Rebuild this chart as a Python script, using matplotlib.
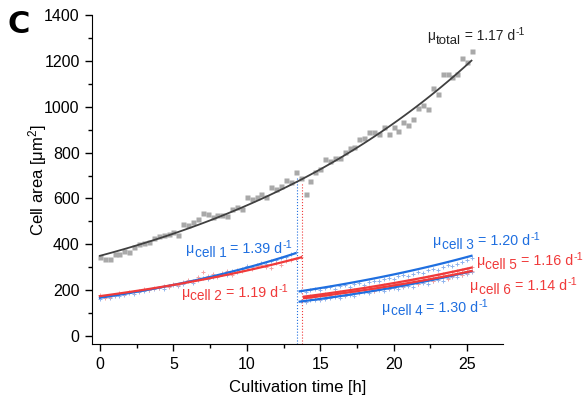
import numpy as np
import matplotlib
matplotlib.use("Agg")
import matplotlib.pyplot as plt
from matplotlib.ticker import MultipleLocator

plt.rcParams['font.family'] = ['Liberation Sans', 'DejaVu Sans']
plt.rcParams['mathtext.fontset'] = 'custom'
plt.rcParams['mathtext.rm'] = 'Liberation Sans'
plt.rcParams['mathtext.it'] = 'Liberation Sans:italic'

# sampling times [h]
time_h = [0.00, 0.33, 0.67, 1.00, 1.33, 1.67, 2.00, 2.33, 2.67, 3.00,
          3.33, 3.67, 4.00, 4.33, 4.67, 5.00, 5.33, 5.67, 6.00, 6.33,
          6.67, 7.00, 7.33, 7.67, 8.00, 8.33, 8.67, 9.00, 9.33, 9.67,
          10.00, 10.33, 10.67, 11.00, 11.33, 11.67, 12.00, 12.33, 12.67, 13.00,
          13.33, 13.67, 14.00, 14.33, 14.67, 15.00, 15.33, 15.67, 16.00, 16.33,
          16.67, 17.00, 17.33, 17.67, 18.00, 18.33, 18.67, 19.00, 19.33, 19.67,
          20.00, 20.33, 20.67, 21.00, 21.33, 21.67, 22.00, 22.33, 22.67, 23.00,
          23.33, 23.67, 24.00, 24.33, 24.67, 25.00, 25.33]

# total colony area [um^2]
area_total = [343, 336, 338, 356, 358, 372, 366, 390, 403, 404,
              409, 429, 436, 440, 445, 454, 440, 487, 484, 499,
              509, 535, 531, 518, 526, 529, 523, 554, 561, 554,
              605, 598, 605, 620, 608, 649, 640, 655, 682, 672,
              716, 690, 620, 677, 717, 727, 772, 765, 778, 775,
              804, 821, 826, 858, 865, 891, 891, 880, 910, 881,
              910, 894, 935, 920, 945, 993, 1007, 990, 1083, 1054,
              1144, 1144, 1131, 1144, 1211, 1194, 1243]

# single cells
cell1 = [162, 170, 168, 176, 174, 180, 186, 183, 193, 197,
         201, 204, 209, 206, 218, 224, 220, 228, 238, 232,
         245, 252, 248, 259, 262, 270, 268, 283, 279, 293,
         305, 300, 312, 318, 314, 326, 333, 340, 344, 356, 366]
cell2 = [180, 165, 172, 181, 186, 184, 194, 190, 198, 205,
         200, 211, 208, 217, 214, 226, 222, 236, 244, 240,
         256, 281, 262, 270, 258, 276, 282, 268, 290, 284,
         298, 292, 306, 312, 300, 295, 320, 312, 326, 330, 338, 344]
cell3 = [196, 190, 201, 204, 199, 208, 212, 206, 217, 221,
         215, 226, 231, 224, 236, 242, 238, 247, 254, 249,
         260, 266, 262, 272, 280, 276, 286, 294, 290, 300,
         308, 304, 316, 322, 330, 342]
cell4 = [152, 148, 156, 158, 155, 162, 165, 170, 168, 176,
         180, 176, 186, 190, 186, 195, 200, 196, 206, 210,
         204, 214, 220, 216, 226, 232, 228, 238, 244, 240,
         252, 258, 256, 266, 272, 280]
cell5 = [168, 176, 174, 180, 184, 181, 190, 194, 188, 198,
         202, 199, 208, 213, 207, 218, 222, 219, 228, 233,
         228, 240, 245, 240, 252, 258, 254, 266, 270, 264,
         278, 284, 288, 292, 300]
cell6 = [158, 166, 170, 168, 176, 174, 182, 186, 180, 190,
         194, 190, 200, 204, 198, 210, 214, 208, 220, 224,
         218, 230, 234, 228, 240, 246, 242, 254, 258, 250,
         264, 270, 268, 276, 282]

# exponential fits: (start area, growth rate [1/d], t start, t end)
fit_total = (350, 1.17, 0.0, 25.3)
fits = {
    'cell 1': (167, 1.39, 0.0, 13.3),
    'cell 2': (174, 1.19, 0.0, 13.7),
    'cell 3': (195, 1.20, 13.6, 25.3),
    'cell 4': (150, 1.30, 13.6, 25.3),
    'cell 5': (172, 1.16, 13.9, 25.3),
    'cell 6': (165, 1.14, 13.9, 25.3),
}

# division markers (time, height of dotted line)
div_blue = (13.44, 689)
div_red = (13.78, 667)

blue = '#1f6fe0'
red = '#f03a3a'
blue_pt = '#8fb4ee'
red_pt = '#f4a3a3'


def fit_curve(p):
    a0, mu, t0, t1 = p
    t = np.linspace(t0, t1, 100)
    return t, a0 * np.exp(mu / 24.0 * (t - t0))


def mu_label(ax, x, y, sub, val, color, size):
    # mu + lowered subscript + " = val d" + raised "-1", chained on baselines
    t = ax.text(x, y, 'μ', fontsize=size, color=color, va='baseline')
    s = ax.annotate(sub, xy=(1, 0), xycoords=t, xytext=(0.3, -2.6),
                    textcoords='offset points', fontsize=size * 0.95,
                    color=color, va='bottom')
    r = ax.annotate(' = %.2f d' % val, xy=(1, 0), xycoords=s, xytext=(0, 2.6),
                    textcoords='offset points', fontsize=size,
                    color=color, va='bottom')
    ax.annotate('-1', xy=(1, 0), xycoords=r, xytext=(0.3, 0.42 * size),
                textcoords='offset points', fontsize=size * 0.75,
                color=color, va='bottom')


fig = plt.figure(figsize=(5.87, 3.98), dpi=100)
ax = fig.add_axes([0.157, 0.135, 0.700, 0.827])

ymin = -36
ax.plot(time_h, area_total, 's', color='#a9a9a9', ms=3.6, mec='none', zorder=2)

ax.plot(time_h[:41], cell1, '+', color=blue_pt, ms=3, mew=0.7, zorder=2)
ax.plot(time_h[:42], cell2, '+', color=red_pt, ms=3, mew=0.7, zorder=2)
ax.plot(time_h[41:], cell3, '+', color=blue_pt, ms=3, mew=0.7, zorder=2)
ax.plot(time_h[41:], cell4, '+', color=blue_pt, ms=3, mew=0.7, zorder=2)
ax.plot(time_h[42:], cell5, '+', color=red_pt, ms=3, mew=0.7, zorder=2)
ax.plot(time_h[42:], cell6, '+', color=red_pt, ms=3, mew=0.7, zorder=2)

t, a = fit_curve(fit_total)
ax.plot(t, a, color='#404040', lw=1.3, zorder=3)
for name, p in fits.items():
    c = blue if name in ('cell 1', 'cell 3', 'cell 4') else red
    t, a = fit_curve(p)
    ax.plot(t, a, color=c, lw=1.6, zorder=3)

ax.plot([div_blue[0]] * 2, [ymin, div_blue[1]], ':', color=blue, lw=0.8)
ax.plot([div_red[0]] * 2, [ymin, div_red[1]], ':', color=red, lw=0.8)

mu_label(ax, 22.3, 1291, 'total', fit_total[1], '#222222', 10)
labels = {
    'cell 1': (5.86, 362, blue),
    'cell 2': (5.56, 171, red),
    'cell 3': (22.7, 397, blue),
    'cell 4': (19.2, 106, blue),
    'cell 5': (25.66, 309, red),
    'cell 6': (25.2, 200, red),
}
for name, (x, y, c) in labels.items():
    mu_label(ax, x, y, name, fits[name][1], c, 10.3)

ax.set_xlim(-0.53, 27.45)
ax.set_ylim(ymin, 1400)
ax.xaxis.set_major_locator(MultipleLocator(5))
ax.xaxis.set_minor_locator(MultipleLocator(2.5))
ax.yaxis.set_major_locator(MultipleLocator(200))
ax.yaxis.set_minor_locator(MultipleLocator(100))
ax.spines['top'].set_visible(False)
ax.spines['right'].set_visible(False)
ax.tick_params(which='major', direction='out', length=5, width=1,
               labelsize=11.5, pad=4)
ax.tick_params(which='minor', direction='out', length=3, width=1)
ax.set_xlabel('Cultivation time [h]', fontsize=12)
ax.set_ylabel(r'Cell area [μm$^2$]', fontsize=12)
ax.xaxis.set_label_coords(0.5, -0.11)
ax.yaxis.set_label_coords(-0.106, 0.5)

fig.text(0.012, 0.975, 'C', fontsize=22, fontweight='bold', va='top',
         family='DejaVu Sans')

fig.savefig('out.png', dpi=100)
